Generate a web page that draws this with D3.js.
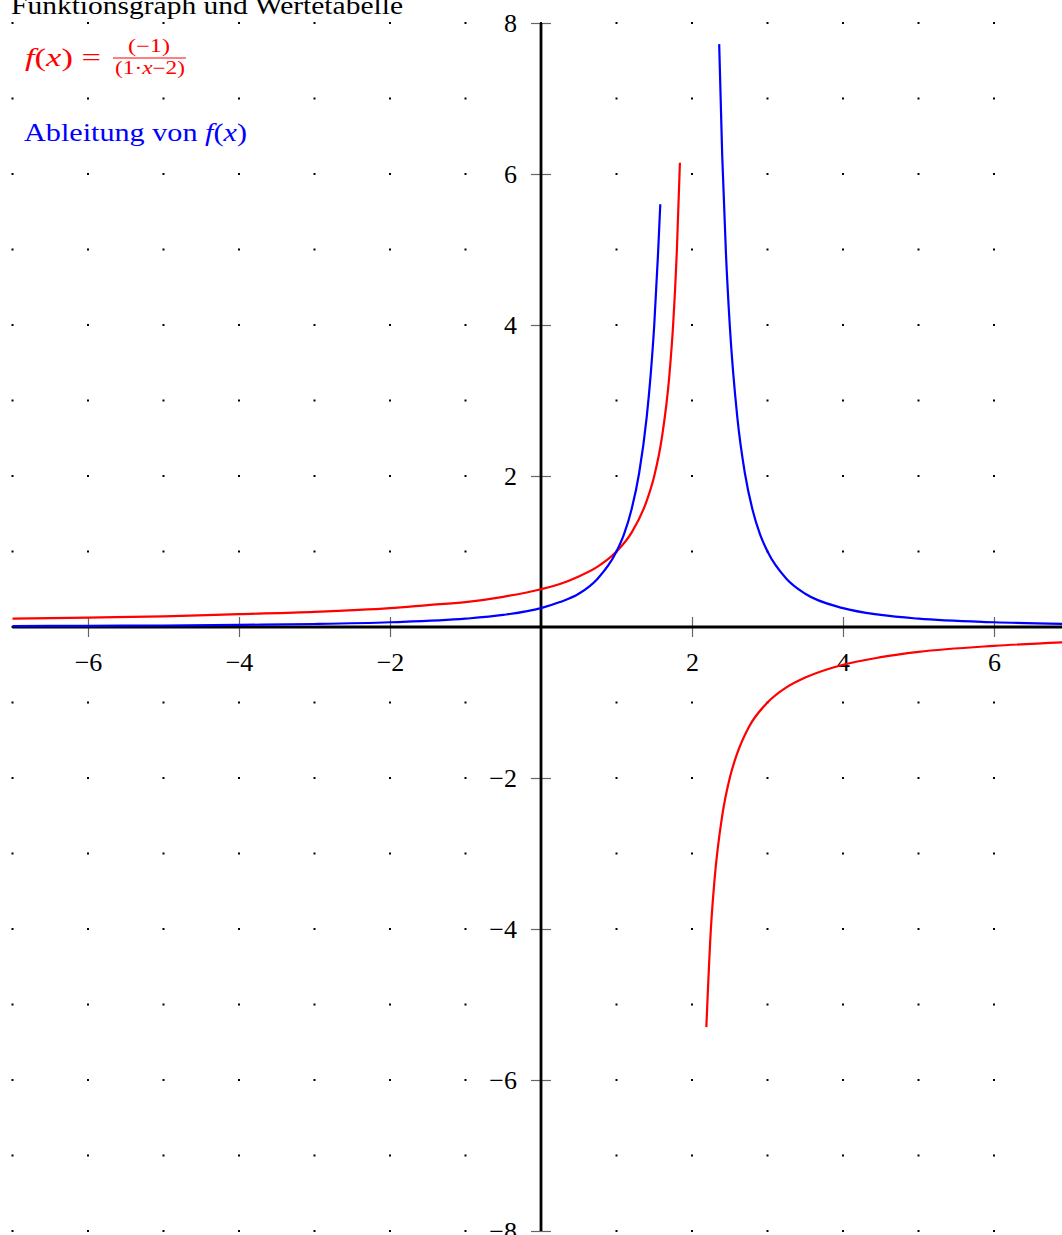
<!DOCTYPE html>
<html lang="de">
<head>
    <meta charset="UTF-8">
    <title>Funktionsgraph und Wertetabelle</title>
    <script src="https://d3js.org/d3.v7.min.js"></script>
    <style>
        body {
            margin: 0;
            background-color: #fff;
        }
        svg {
            display: block;
            font-family: 'Liberation Serif', 'DejaVu Serif', serif;
        }
        .tick line {
            stroke: #666;
            stroke-width: 1.2;
        }
        .tick text {
            font-size: 26px;
            fill: #000;
            font-family: 'Liberation Serif', serif;
        }
    </style>
</head>
<body>
    <svg width="1062" height="1235"></svg>

    <script>
        // f(x) = -1/(x-2), left branch
        const fLeftX = [-7, -6, -5, -4, -3, -2, -1.5, -1, -0.5, 0, 0.25, 0.5, 0.75, 1, 1.2, 1.4, 1.5, 1.6, 1.7, 1.75, 1.8, 1.84];
        const fLeftY = [0.11, 0.125, 0.14, 0.17, 0.2, 0.25, 0.29, 0.33, 0.4, 0.5, 0.57, 0.67, 0.8, 1.0, 1.25, 1.67, 2.0, 2.5, 3.33, 4.0, 5.0, 6.15];

        // f(x), right branch
        const fRightX = [2.19, 2.25, 2.3, 2.4, 2.5, 2.6, 2.75, 3, 3.25, 3.5, 4, 4.5, 5, 6, 7];
        const fRightY = [-5.3, -4.0, -3.33, -2.5, -2.0, -1.67, -1.33, -1.0, -0.8, -0.67, -0.5, -0.4, -0.33, -0.25, -0.2];

        // Ableitung, left branch
        const dLeftX = [-7, -6, -5, -4, -3, -2, -1, -0.5, 0, 0.25, 0.5, 0.75, 1, 1.1, 1.2, 1.3, 1.4, 1.45, 1.5, 1.55, 1.58];
        const dLeftY = [0.012, 0.016, 0.02, 0.028, 0.04, 0.063, 0.11, 0.16, 0.25, 0.33, 0.44, 0.64, 1.0, 1.23, 1.56, 2.04, 2.78, 3.31, 4.0, 4.94, 5.6];

        // Ableitung, right branch
        const dRightX = [2.36, 2.4, 2.45, 2.5, 2.6, 2.7, 2.8, 2.9, 3, 3.25, 3.5, 4, 4.5, 5, 6, 7];
        const dRightY = [7.72, 6.25, 4.94, 4.0, 2.78, 2.04, 1.56, 1.23, 1.0, 0.64, 0.44, 0.25, 0.16, 0.11, 0.063, 0.04];

        const xTicks = [-6, -4, -2, 2, 4, 6];
        const yTicks = [-8, -6, -4, -2, 2, 4, 6, 8];
        const gridX = d3.range(-7, 7);
        const gridY = d3.range(-8, 9);

        const width = 1062, height = 1235;
        const svg = d3.select("svg");

        // 1 unit = 75.5 px on both axes, origin at (541, 627)
        const x = d3.scaleLinear().domain([-7, 7]).range([541 - 7 * 75.5, 541 + 7 * 75.5]);
        const y = d3.scaleLinear().domain([-8, 8]).range([627 + 8 * 75.5, 627 - 8 * 75.5]);

        svg.append("clipPath").attr("id", "clip")
            .append("rect").attr("width", width).attr("height", height);

        // dotted grid
        const dots = [];
        gridX.forEach(gx => gridY.forEach(gy => dots.push([gx, gy])));
        svg.append("g").selectAll("rect")
            .data(dots)
            .enter().append("rect")
            .attr("x", d => x(d[0]) - 1)
            .attr("y", d => y(d[1]) - 1)
            .attr("width", 2)
            .attr("height", 2)
            .attr("fill", "#000");

        // ticks crossing the axes
        const xAxis = d3.axisBottom(x).tickValues(xTicks).tickSize(20).tickPadding(16);
        svg.append("g")
            .attr("transform", `translate(0,${y(0) - 10})`)
            .call(xAxis)
            .call(g => g.select(".domain").remove());

        const yAxis = d3.axisLeft(y).tickValues(yTicks).tickSize(20).tickPadding(14);
        svg.append("g")
            .attr("transform", `translate(${x(0) + 10},0)`)
            .call(yAxis)
            .call(g => g.select(".domain").remove());

        // axis lines
        svg.append("line")
            .attr("x1", x(-7)).attr("x2", width)
            .attr("y1", y(0)).attr("y2", y(0))
            .attr("stroke", "#000").attr("stroke-width", 2.8);
        svg.append("line")
            .attr("x1", x(0)).attr("x2", x(0))
            .attr("y1", y(8)).attr("y2", y(-8))
            .attr("stroke", "#000").attr("stroke-width", 2.8);

        // curves
        const line = d3.line()
            .x(d => x(d[0]))
            .y(d => y(d[1]))
            .curve(d3.curveMonotoneX);

        const curves = [
            { xs: fLeftX, ys: fLeftY, color: "#ff0000" },
            { xs: fRightX, ys: fRightY, color: "#ff0000" },
            { xs: dLeftX, ys: dLeftY, color: "#0000ff" },
            { xs: dRightX, ys: dRightY, color: "#0000ff" }
        ];

        svg.append("g").attr("clip-path", "url(#clip)")
            .selectAll("path")
            .data(curves)
            .enter().append("path")
            .attr("d", d => line(d.xs.map((v, i) => [v, d.ys[i]])))
            .attr("fill", "none")
            .attr("stroke", d => d.color)
            .attr("stroke-width", 2.2)
            .attr("stroke-linejoin", "round");

        // title
        svg.append("text")
            .attr("x", 11).attr("y", 14)
            .attr("font-size", 26)
            .attr("textLength", 392)
            .attr("lengthAdjust", "spacingAndGlyphs")
            .text("Funktionsgraph und Wertetabelle");

        // legend: f(x) = (-1)/(1·x-2)
        const red = "#ff0000";
        const fx = svg.append("text")
            .attr("x", 25).attr("y", 66)
            .attr("font-size", 26)
            .attr("fill", red)
            .attr("textLength", 76)
            .attr("lengthAdjust", "spacingAndGlyphs");
        fx.append("tspan").attr("font-style", "italic").text("f");
        fx.append("tspan").text("(");
        fx.append("tspan").attr("font-style", "italic").text("x");
        fx.append("tspan").text(") =");

        svg.append("text")
            .attr("x", 149).attr("y", 52)
            .attr("font-size", 18).attr("fill", red)
            .attr("text-anchor", "middle")
            .attr("textLength", 42)
            .attr("lengthAdjust", "spacingAndGlyphs")
            .text("(\u22121)");
        svg.append("line")
            .attr("x1", 113).attr("x2", 186)
            .attr("y1", 58).attr("y2", 58)
            .attr("stroke", red).attr("stroke-width", 1);
        const den = svg.append("text")
            .attr("x", 150).attr("y", 74)
            .attr("font-size", 18).attr("fill", red)
            .attr("text-anchor", "middle")
            .attr("textLength", 70)
            .attr("lengthAdjust", "spacingAndGlyphs");
        den.append("tspan").text("(1\u00b7");
        den.append("tspan").attr("font-style", "italic").text("x");
        den.append("tspan").text("\u22122)");

        // legend: Ableitung von f(x)
        const abl = svg.append("text")
            .attr("x", 24).attr("y", 141)
            .attr("font-size", 26)
            .attr("fill", "#0000ff")
            .attr("textLength", 223)
            .attr("lengthAdjust", "spacingAndGlyphs");
        abl.append("tspan").text("Ableitung von ");
        abl.append("tspan").attr("font-style", "italic").text("f");
        abl.append("tspan").text("(");
        abl.append("tspan").attr("font-style", "italic").text("x");
        abl.append("tspan").text(")");
    </script>
</body>
</html>
